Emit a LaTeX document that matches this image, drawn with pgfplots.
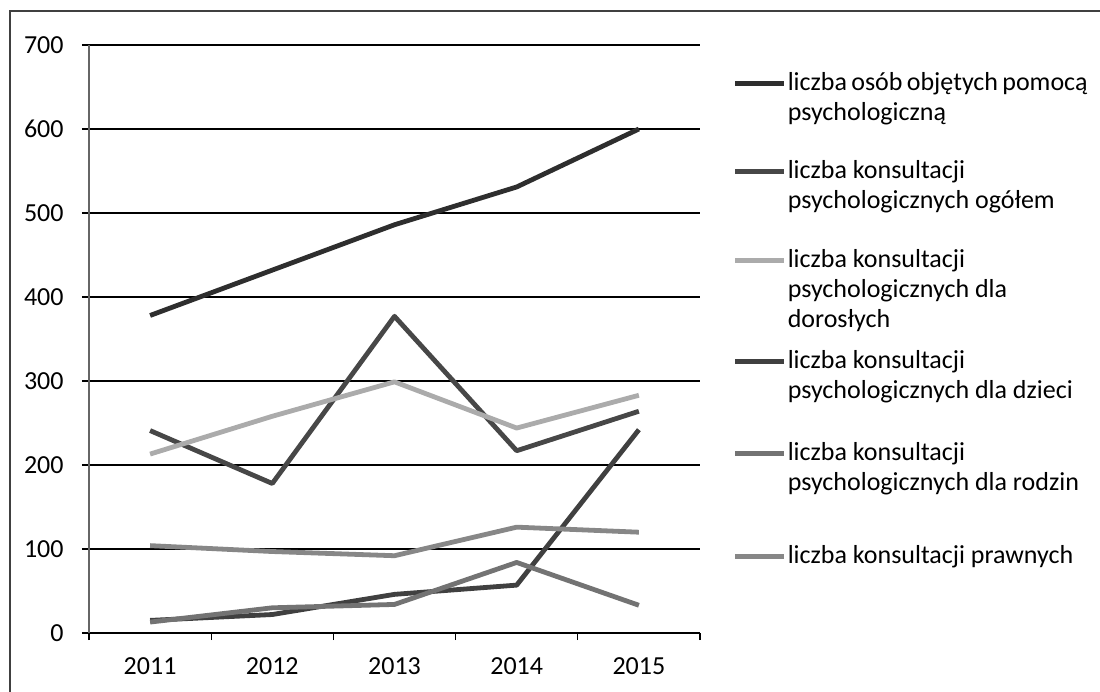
\documentclass[border=0pt]{standalone}
\usepackage{fontspec}
\setmainfont{Carlito}
\usepackage{pgfplots}
\pgfplotsset{compat=1.18}
\newcommand{\fl}{\rule{0pt}{10.5pt}}
\newcommand{\ldp}[1]{\rule[-#1]{0pt}{#1}}
\begin{document}
\fontsize{13}{15}\selectfont
\begin{tikzpicture}
\useasboundingbox (0pt,0pt) rectangle (550pt,346pt);
\draw[black!75, line width=0.6pt] (5pt,0pt) -- (5pt,340.5pt) -- (550pt,340.5pt);
\begin{axis}[at={(44.5pt,29.5pt)}, anchor=south west, scale only axis,
  width=305.5pt, height=294pt,
  xmin=-0.5, xmax=4.5, ymin=0, ymax=700,
  axis x line*=bottom, axis y line*=left,
  x axis line style={black, line width=0.9pt},
  y axis line style={black!60, line width=0.6pt},
  xtick={-0.5,0.5,...,4.5}, xticklabels={},
  extra x ticks={0,1,2,3,4},
  extra x tick labels={2011,2012,2013,2014,2015},
  extra x tick style={major tick length=0pt, grid=none},
  ytick={0,100,...,700},
  tick align=outside, major tick length=3.5pt,
  tick style={black, line width=0.6pt},
  ymajorgrids, major grid style={black, line width=0.7pt},
  /pgf/number format/assume math mode=true,
  tick label style={font=\fontsize{13}{15}\selectfont, inner sep=0pt},
  yticklabel style={xshift=-9pt},
  xticklabel style={yshift=-12pt},
  legend image code/.code={\draw[#1] (0pt,3.5pt) -- (24.5pt,3.5pt);},
  legend style={at={(axis description cs:1.054,0.959)}, anchor=north west,
    draw=none, fill=none, inner sep=0pt, outer sep=0pt,
    column sep=0.5pt, row sep=0pt,
    nodes={inner sep=0pt, text depth={}},
    cells={anchor=base west},
    font=\fontsize{13}{15}\selectfont},
  every axis plot/.append style={line width=2.4pt, line join=round},
]
\addplot[black!82] coordinates {(0,378) (1,432) (2,486) (3,531) (4,600)};
\addlegendentry{\parbox[t]{150pt}{\fl liczba osób objętych pomocą\\psychologiczną\ldp{18.5pt}}}
\addplot[black!72] coordinates {(0,241) (1,178) (2,377) (3,217) (4,264)};
\addlegendentry{\parbox[t]{150pt}{\fl liczba konsultacji\\psychologicznych ogółem\ldp{19pt}}}
\addplot[black!33] coordinates {(0,213) (1,258) (2,299) (3,244) (4,283)};
\addlegendentry{\parbox[t]{150pt}{\fl liczba konsultacji\\psychologicznych dla\\dorosłych\ldp{10pt}}}
\addplot[black!75] coordinates {(0,15) (1,22) (2,46) (3,57) (4,242)};
\addlegendentry{\parbox[t]{150pt}{\fl liczba konsultacji\\psychologicznych dla dzieci\ldp{20.5pt}}}
\addplot[black!55] coordinates {(0,13) (1,30) (2,34) (3,84) (4,33)};
\addlegendentry{\parbox[t]{150pt}{\fl liczba konsultacji\\psychologicznych dla rodzin\ldp{26pt}}}
\addplot[black!47] coordinates {(0,104) (1,97) (2,92) (3,126) (4,120)};
\addlegendentry{\parbox[t]{150pt}{\fl liczba konsultacji prawnych\ldp{5pt}}}
\end{axis}
\end{tikzpicture}
\end{document}
